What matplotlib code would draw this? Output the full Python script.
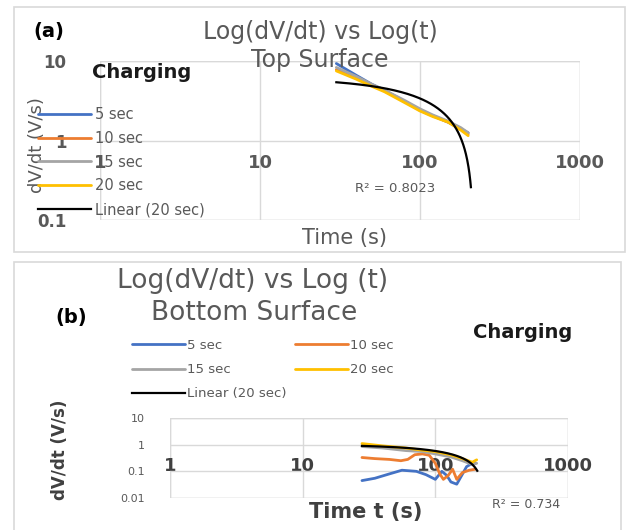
import numpy as np
import matplotlib
matplotlib.use("Agg")
import matplotlib.pyplot as plt
from matplotlib.patches import Rectangle

plt.rcParams['font.family'] = ['DejaVu Sans']

# ---------------- data: (a) Top surface ----------------
top_t = [30, 40, 50, 60, 80, 100, 120, 150, 180, 200]
top_5s = [9.3, 6.6, 5.1, 4.3, 3.1, 2.4, 2.05, 1.7, 1.4, 1.25]
top_10s = [7.8, 6.1, 5.0, 4.2, 3.1, 2.4, 2.05, 1.7, 1.4, 1.2]
top_15s = [8.3, 6.4, 5.1, 4.3, 3.2, 2.5, 2.1, 1.75, 1.45, 1.25]
top_20s = [7.5, 5.9, 4.8, 4.1, 3.0, 2.35, 2.0, 1.7, 1.35, 1.15]
top_trend_slope = -0.0289
top_trend_intercept = 6.27
top_trend_t = [30, 208]
top_r2 = "R² = 0.8023"

# ---------------- data: (b) Bottom surface ----------------
bot_t_5s = [28, 35, 45, 56, 72, 85, 100, 112, 122, 131, 145, 158, 172, 190, 200]
bot_5s = [0.045, 0.055, 0.08, 0.11, 0.1, 0.075, 0.05, 0.1, 0.07, 0.04, 0.033, 0.07, 0.15, 0.2, 0.2]
bot_t_10s = [28, 35, 45, 55, 62, 70, 80, 90, 100, 108, 115, 125, 135, 145, 160, 180, 200]
bot_10s = [0.33, 0.3, 0.28, 0.25, 0.28, 0.42, 0.45, 0.4, 0.2, 0.08, 0.05, 0.07, 0.12, 0.05, 0.09, 0.11, 0.12]
bot_t_15s = [28, 40, 60, 80, 100, 130, 160, 190, 205]
bot_15s = [0.85, 0.75, 0.6, 0.55, 0.45, 0.35, 0.25, 0.18, 0.2]
bot_t_20s = [28, 40, 60, 80, 100, 130, 160, 190, 205]
bot_20s = [1.1, 0.9, 0.75, 0.62, 0.55, 0.42, 0.3, 0.22, 0.27]
bot_trend_slope = -0.00444
bot_trend_intercept = 1.024
bot_trend_t = [28, 207]
bot_r2 = "R² = 0.734"

series_labels = ["5 sec", "10 sec", "15 sec", "20 sec", "Linear (20 sec)"]
x_ticks = [1, 10, 100, 1000]
x_tick_labels = ["1", "10", "100", "1000"]
top_y_ticks = [0.1, 1, 10]
top_y_tick_labels = ["0.1", "1", "10"]
bot_y_ticks = [0.01, 0.1, 1, 10]
bot_y_tick_labels = ["0.01", "0.1", "1", "10"]

colors = ["#4472C4", "#ED7D31", "#A5A5A5", "#FFC000", "#000000"]
GRID = "#D9D9D9"
GRAY = "#595959"
DARK = "#404040"

W, H = 632, 530
fig = plt.figure(figsize=(W / 100, H / 100), dpi=100)


def fx(x):
    return x / W


def fy(y):
    return 1 - y / H


# chart frames
fig.patches.append(Rectangle((fx(14), fy(252)), fx(625) - fx(14), fy(7) - fy(252),
                             transform=fig.transFigure, fill=False, ec=GRID, lw=1.2))
fig.patches.append(Rectangle((fx(14), fy(535)), fx(621) - fx(14), fy(262) - fy(535),
                             transform=fig.transFigure, fill=False, ec=GRID, lw=1.2))


def style_axes(ax, ylim, yticks, ylabels, xlab_size, xlab_color, xpad, ylab_size, ylab_weight, ypad):
    ax.set_xscale("log")
    ax.set_yscale("log")
    ax.set_xlim(1, 1000)
    ax.set_ylim(*ylim)
    for s in ax.spines.values():
        s.set_visible(False)
    ax.spines['bottom'].set_position(('data', 1))
    ax.set_xticks(x_ticks)
    ax.set_xticklabels(x_tick_labels, fontsize=xlab_size, fontweight="bold", color=xlab_color)
    ax.set_yticks(yticks)
    ax.set_yticklabels(ylabels, fontsize=ylab_size, fontweight=ylab_weight, color=GRAY)
    ax.xaxis.set_minor_locator(matplotlib.ticker.NullLocator())
    ax.yaxis.set_minor_locator(matplotlib.ticker.NullLocator())
    ax.tick_params(axis="x", length=0, pad=xpad)
    ax.tick_params(axis="y", length=0, pad=ypad)
    ax.grid(True, color=GRID, lw=1.0)
    ax.set_axisbelow(True)
    # outer box gridlines
    ax.axvline(1000, color=GRID, lw=1.0, zorder=0)
    ax.axhline(ylim[1], color=GRID, lw=1.0, zorder=0)
    ax.axhline(ylim[0], color=GRID, lw=1.0, zorder=0)
    ax.axvline(1, color=GRID, lw=1.0, zorder=0)


# ---------------- (a) ----------------
ax1 = fig.add_axes([fx(100), fy(220), fx(580) - fx(100), fy(61) - fy(220)])
ax1.patch.set_alpha(0)
style_axes(ax1, (0.1, 10), top_y_ticks, top_y_tick_labels, 13, GRAY, 10, 12, "bold", 24)
h = []
for tt, vv, c, lab in zip([top_t] * 4, [top_5s, top_10s, top_15s, top_20s], colors[:4], series_labels[:4]):
    ln, = ax1.plot(tt, vv, color=c, lw=2.0, label=lab, solid_capstyle="round")
    h.append(ln)
tt = np.linspace(top_trend_t[0], top_trend_t[1], 200)
ln, = ax1.plot(tt, top_trend_slope * tt + top_trend_intercept, color=colors[4], lw=1.6,
               label=series_labels[4])
h.append(ln)
fig.legend(handles=h, loc="upper left", bbox_to_anchor=(fx(38), fy(107)), frameon=False,
           fontsize=10.5, labelcolor=GRAY, handlelength=3.6, handletextpad=0.3,
           labelspacing=0.6, borderpad=0, borderaxespad=0)

fig.text(fx(49), fy(32), "(a)", fontsize=14, fontweight="bold", color="black", ha="center", va="center")
fig.text(fx(320), fy(32), "Log(dV/dt) vs Log(t)", fontsize=17, color=GRAY, ha="center", va="center")
fig.text(fx(320), fy(60), "Top Surface", fontsize=17, color=GRAY, ha="center", va="center")
fig.text(fx(142), fy(73), "Charging", fontsize=14, fontweight="bold", color="#1a1a1a", ha="center", va="center")
fig.text(fx(37), fy(145), "dV/dt (V/s)", fontsize=13, color=GRAY, rotation=90, ha="center", va="center")
fig.text(fx(344), fy(238), "Time (s)", fontsize=15, color=GRAY, ha="center", va="center")
fig.text(fx(395), fy(189), top_r2, fontsize=9.5, color=GRAY, ha="center", va="center")

# ---------------- (b) ----------------
ax2 = fig.add_axes([fx(170), fy(498), fx(568) - fx(170), fy(418) - fy(498)])
ax2.patch.set_alpha(0)
style_axes(ax2, (0.01, 10), bot_y_ticks, bot_y_tick_labels, 13, DARK, 9, 8, "normal", 18)
h2 = []
for tt, vv, c, lab in zip([bot_t_5s, bot_t_10s, bot_t_15s, bot_t_20s],
                          [bot_5s, bot_10s, bot_15s, bot_20s], colors[:4], series_labels[:4]):
    ln, = ax2.plot(tt, vv, color=c, lw=2.0, label=lab, solid_capstyle="round")
    h2.append(ln)
tt = np.linspace(bot_trend_t[0], bot_trend_t[1], 200)
ln, = ax2.plot(tt, bot_trend_slope * tt + bot_trend_intercept, color=colors[4], lw=1.6,
               label=series_labels[4])
h2.append(ln)
order = [0, 2, 4, 1, 3]
fig.legend(handles=[h2[i] for i in order], loc="upper left", bbox_to_anchor=(fx(132), fy(339)),
           ncol=2, frameon=False, fontsize=9.5, labelcolor=GRAY, handlelength=4.0,
           handletextpad=0.2, labelspacing=0.85, columnspacing=0.6, borderpad=0, borderaxespad=0)

fig.text(fx(253), fy(281), "Log(dV/dt) vs Log (t)", fontsize=19, color=GRAY, ha="center", va="center")
fig.text(fx(254), fy(313), "Bottom Surface", fontsize=19, color=GRAY, ha="center", va="center")
fig.text(fx(71), fy(318), "(b)", fontsize=14, fontweight="bold", color="black", ha="center", va="center")
fig.text(fx(523), fy(333), "Charging", fontsize=14, fontweight="bold", color="#1a1a1a", ha="center", va="center")
fig.text(fx(60), fy(450), "dV/dt (V/s)", fontsize=12, fontweight="bold", color=DARK, rotation=90,
         ha="center", va="center")
fig.text(fx(366), fy(512), "Time t (s)", fontsize=15, fontweight="bold", color=DARK, ha="center", va="center")
fig.text(fx(526), fy(505), bot_r2, fontsize=9, color=GRAY, ha="center", va="center")

fig.savefig("out.png", dpi=100)
